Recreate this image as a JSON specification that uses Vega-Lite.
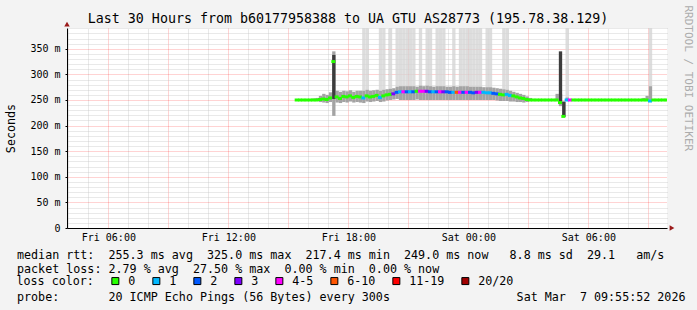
{
  "$schema": "https://vega.github.io/schema/vega-lite/v6.json",
  "width": 600,
  "height": 200,
  "autosize": {"type": "none"},
  "padding": {"left": 67, "top": 28, "right": 30, "bottom": 82},
  "background": "#f3f3f3",
  "title": {
    "text": "Last 30 Hours from b60177958388 to UA GTU AS28773 (195.78.38.129)",
    "orient": "top", "anchor": "middle", "frame": "group", "dx": -19, "dy": 35, "offset": 4,
    "baseline": "alphabetic", "font": "DejaVu Sans Mono", "fontSize": 13.3,
    "fontWeight": "normal", "color": "#000000"
  },
  "data": {"values": [
    {"t":"2026-03-06T15:20","m":250,"l":"0","lo":249,"hi":251},
    {"t":"2026-03-06T15:30","m":250,"l":"0","lo":249,"hi":251},
    {"t":"2026-03-06T15:40","m":250,"l":"0","lo":249,"hi":251},
    {"t":"2026-03-06T15:50","m":250,"l":"0","lo":249,"hi":251},
    {"t":"2026-03-06T16:00","m":250,"l":"0","lo":249,"hi":251},
    {"t":"2026-03-06T16:10","m":250,"l":"0","lo":248,"hi":253},
    {"t":"2026-03-06T16:20","m":250,"l":"0","lo":248,"hi":254},
    {"t":"2026-03-06T16:30","m":251,"l":"0","lo":246,"hi":258},
    {"t":"2026-03-06T16:40","m":252,"l":"0","lo":245,"hi":262},
    {"t":"2026-03-06T16:50","m":251,"l":"0","lo":244,"hi":260},
    {"t":"2026-03-06T17:00","m":254,"l":"0","lo":246,"hi":265},
    {"t":"2026-03-06T17:10","m":325,"l":"0","lo":219,"hi":345,"d0":252,"d1":338},
    {"t":"2026-03-06T17:20","m":256,"l":"0","lo":245,"hi":268},
    {"t":"2026-03-06T17:30","m":253,"l":"0","lo":244,"hi":266},
    {"t":"2026-03-06T17:40","m":257,"l":"0","lo":246,"hi":268},
    {"t":"2026-03-06T17:50","m":256,"l":"0","lo":245,"hi":267},
    {"t":"2026-03-06T18:00","m":258,"l":"0","lo":247,"hi":269},
    {"t":"2026-03-06T18:10","m":255,"l":"0","lo":245,"hi":266},
    {"t":"2026-03-06T18:20","m":257,"l":"0","lo":246,"hi":268},
    {"t":"2026-03-06T18:30","m":256,"l":"0","lo":245,"hi":268},
    {"t":"2026-03-06T18:40","m":254,"l":"1","lo":244,"hi":268,"tp":400},
    {"t":"2026-03-06T18:50","m":258,"l":"0","lo":247,"hi":270,"tp":400},
    {"t":"2026-03-06T19:00","m":256,"l":"0","lo":246,"hi":268},
    {"t":"2026-03-06T19:10","m":257,"l":"0","lo":247,"hi":269},
    {"t":"2026-03-06T19:20","m":259,"l":"0","lo":248,"hi":270},
    {"t":"2026-03-06T19:30","m":255,"l":"1","lo":246,"hi":268,"tp":400},
    {"t":"2026-03-06T19:40","m":258,"l":"0","lo":247,"hi":270,"tp":400},
    {"t":"2026-03-06T19:50","m":260,"l":"0","lo":249,"hi":271},
    {"t":"2026-03-06T20:00","m":261,"l":"0","lo":250,"hi":272,"tp":400},
    {"t":"2026-03-06T20:10","m":262,"l":"3","lo":251,"hi":273},
    {"t":"2026-03-06T20:20","m":265,"l":"2","lo":252,"hi":276,"tp":400},
    {"t":"2026-03-06T20:30","m":266,"l":"1","lo":250,"hi":277,"tp":400},
    {"t":"2026-03-06T20:40","m":266,"l":"4-5","lo":250,"hi":277,"tp":400},
    {"t":"2026-03-06T20:50","m":266,"l":"2","lo":250,"hi":277,"tp":400},
    {"t":"2026-03-06T21:00","m":266,"l":"1","lo":250,"hi":277,"tp":400},
    {"t":"2026-03-06T21:10","m":266,"l":"2","lo":250,"hi":277,"tp":400},
    {"t":"2026-03-06T21:20","m":267,"l":"0","lo":251,"hi":276},
    {"t":"2026-03-06T21:30","m":267,"l":"4-5","lo":250,"hi":278,"tp":400},
    {"t":"2026-03-06T21:40","m":267,"l":"4-5","lo":250,"hi":277},
    {"t":"2026-03-06T21:50","m":267,"l":"3","lo":250,"hi":278,"tp":400},
    {"t":"2026-03-06T22:00","m":266,"l":"2","lo":250,"hi":277,"tp":400},
    {"t":"2026-03-06T22:10","m":266,"l":"1","lo":250,"hi":276},
    {"t":"2026-03-06T22:20","m":266,"l":"2","lo":250,"hi":277,"tp":400},
    {"t":"2026-03-06T22:30","m":266,"l":"4-5","lo":250,"hi":277,"tp":400},
    {"t":"2026-03-06T22:40","m":266,"l":"3","lo":250,"hi":277,"tp":400},
    {"t":"2026-03-06T22:50","m":266,"l":"2","lo":250,"hi":276},
    {"t":"2026-03-06T23:00","m":265,"l":"2","lo":250,"hi":276},
    {"t":"2026-03-06T23:10","m":265,"l":"1","lo":250,"hi":277,"tp":400},
    {"t":"2026-03-06T23:20","m":265,"l":"6-10","lo":250,"hi":276},
    {"t":"2026-03-06T23:30","m":265,"l":"4-5","lo":250,"hi":277,"tp":400},
    {"t":"2026-03-06T23:40","m":265,"l":"2","lo":250,"hi":277,"tp":400},
    {"t":"2026-03-06T23:50","m":265,"l":"4-5","lo":250,"hi":277,"tp":400},
    {"t":"2026-03-07T00:00","m":265,"l":"2","lo":250,"hi":276,"tp":400},
    {"t":"2026-03-07T00:10","m":264,"l":"2","lo":250,"hi":276,"tp":400},
    {"t":"2026-03-07T00:20","m":265,"l":"3","lo":250,"hi":276,"tp":400},
    {"t":"2026-03-07T00:30","m":265,"l":"4-5","lo":250,"hi":276,"tp":400},
    {"t":"2026-03-07T00:40","m":265,"l":"1","lo":250,"hi":275},
    {"t":"2026-03-07T00:50","m":264,"l":"1","lo":250,"hi":275,"tp":400},
    {"t":"2026-03-07T01:00","m":264,"l":"1","lo":250,"hi":275,"tp":400},
    {"t":"2026-03-07T01:10","m":263,"l":"2","lo":250,"hi":274},
    {"t":"2026-03-07T01:20","m":262,"l":"2","lo":249,"hi":273},
    {"t":"2026-03-07T01:30","m":261,"l":"0","lo":248,"hi":272},
    {"t":"2026-03-07T01:40","m":260,"l":"0","lo":248,"hi":271,"tp":400},
    {"t":"2026-03-07T01:50","m":261,"l":"1","lo":248,"hi":270,"tp":400},
    {"t":"2026-03-07T02:00","m":259,"l":"1","lo":247,"hi":268},
    {"t":"2026-03-07T02:10","m":258,"l":"0","lo":247,"hi":266},
    {"t":"2026-03-07T02:20","m":256,"l":"0","lo":246,"hi":264},
    {"t":"2026-03-07T02:30","m":254,"l":"0","lo":246,"hi":262},
    {"t":"2026-03-07T02:40","m":253,"l":"0","lo":245,"hi":260},
    {"t":"2026-03-07T02:50","m":251,"l":"0","lo":246,"hi":257},
    {"t":"2026-03-07T03:00","m":250,"l":"0","lo":248,"hi":254},
    {"t":"2026-03-07T03:10","m":250,"l":"0","lo":249,"hi":251},
    {"t":"2026-03-07T03:20","m":250,"l":"0","lo":249,"hi":251},
    {"t":"2026-03-07T03:30","m":250,"l":"0","lo":249,"hi":251},
    {"t":"2026-03-07T03:40","m":250,"l":"0","lo":249,"hi":251},
    {"t":"2026-03-07T03:50","m":250,"l":"0","lo":249,"hi":251},
    {"t":"2026-03-07T04:00","m":250,"l":"0","lo":249,"hi":251},
    {"t":"2026-03-07T04:10","m":250,"l":"0","lo":249,"hi":251},
    {"t":"2026-03-07T04:20","m":250,"l":"0","lo":248,"hi":262},
    {"t":"2026-03-07T04:30","m":245,"l":"0","lo":238,"hi":262,"d0":245,"d1":345},
    {"t":"2026-03-07T04:40","m":218,"l":"0","lo":217,"hi":248,"d0":217,"d1":246},
    {"t":"2026-03-07T04:50","m":250,"l":"1","lo":249,"hi":255,"tp":400},
    {"t":"2026-03-07T05:00","m":250,"l":"4-5","lo":249,"hi":252},
    {"t":"2026-03-07T05:10","m":250,"l":"0","lo":249,"hi":251},
    {"t":"2026-03-07T05:20","m":250,"l":"0","lo":249,"hi":251},
    {"t":"2026-03-07T05:30","m":250,"l":"0","lo":249,"hi":251},
    {"t":"2026-03-07T05:40","m":250,"l":"0","lo":249,"hi":251},
    {"t":"2026-03-07T05:50","m":250,"l":"0","lo":249,"hi":251},
    {"t":"2026-03-07T06:00","m":250,"l":"0","lo":249,"hi":251},
    {"t":"2026-03-07T06:10","m":250,"l":"0","lo":249,"hi":251},
    {"t":"2026-03-07T06:20","m":250,"l":"0","lo":249,"hi":251},
    {"t":"2026-03-07T06:30","m":250,"l":"0","lo":249,"hi":251},
    {"t":"2026-03-07T06:40","m":250,"l":"0","lo":249,"hi":251},
    {"t":"2026-03-07T06:50","m":250,"l":"0","lo":249,"hi":251},
    {"t":"2026-03-07T07:00","m":250,"l":"0","lo":249,"hi":251},
    {"t":"2026-03-07T07:10","m":250,"l":"0","lo":249,"hi":251},
    {"t":"2026-03-07T07:20","m":250,"l":"0","lo":249,"hi":251},
    {"t":"2026-03-07T07:30","m":250,"l":"0","lo":249,"hi":251},
    {"t":"2026-03-07T07:40","m":250,"l":"0","lo":249,"hi":251},
    {"t":"2026-03-07T07:50","m":250,"l":"0","lo":249,"hi":251},
    {"t":"2026-03-07T08:00","m":250,"l":"0","lo":249,"hi":251},
    {"t":"2026-03-07T08:10","m":250,"l":"0","lo":249,"hi":251},
    {"t":"2026-03-07T08:20","m":250,"l":"0","lo":249,"hi":251},
    {"t":"2026-03-07T08:30","m":250,"l":"0","lo":249,"hi":251},
    {"t":"2026-03-07T08:40","m":250,"l":"0","lo":249,"hi":254},
    {"t":"2026-03-07T08:50","m":250,"l":"0","lo":249,"hi":258},
    {"t":"2026-03-07T09:00","m":248,"l":"1","lo":246,"hi":277,"tp":400},
    {"t":"2026-03-07T09:10","m":250,"l":"0","lo":249,"hi":251},
    {"t":"2026-03-07T09:20","m":250,"l":"0","lo":249,"hi":251},
    {"t":"2026-03-07T09:30","m":250,"l":"0","lo":249,"hi":251},
    {"t":"2026-03-07T09:40","m":250,"l":"0","lo":249,"hi":251},
    {"t":"2026-03-07T09:50","m":250,"l":"0","lo":249,"hi":251}
  ]},
  "resolve": {"axis": {"x": "independent", "y": "independent"}},
  "layer": [
    {
      "transform": [{"filter": "isValid(datum.tp)"}],
      "mark": {"type": "rect", "color": "#d4d4d4", "opacity": 0.8, "clip": true},
      "encoding": {
        "x": {
          "field": "t", "type": "temporal",
          "timeUnit": {"unit": "yearmonthdatehoursminutes", "step": 10},
          "scale": {"domain": [
            {"year": 2026, "month": 3, "date": 6, "hours": 3, "minutes": 56},
            {"year": 2026, "month": 3, "date": 7, "hours": 9, "minutes": 56}
          ]},
          "axis": {
            "orient": "bottom",
            "values": [
              {"year": 2026, "month": 3, "date": 6, "hours": 6},
              {"year": 2026, "month": 3, "date": 6, "hours": 9},
              {"year": 2026, "month": 3, "date": 6, "hours": 12},
              {"year": 2026, "month": 3, "date": 6, "hours": 15},
              {"year": 2026, "month": 3, "date": 6, "hours": 18},
              {"year": 2026, "month": 3, "date": 6, "hours": 21},
              {"year": 2026, "month": 3, "date": 7, "hours": 0},
              {"year": 2026, "month": 3, "date": 7, "hours": 3},
              {"year": 2026, "month": 3, "date": 7, "hours": 6},
              {"year": 2026, "month": 3, "date": 7, "hours": 9}
            ],
            "grid": true, "gridColor": "#ff0000", "gridOpacity": 0.35, "gridDash": [1, 1],
            "domain": true, "domainColor": "#000000", "ticks": false,
            "labelExpr": "hours(datum.value) % 6 == 0 ? timeFormat(datum.value, '%a %H:%M') : ''",
            "labelFont": "DejaVu Sans Mono", "labelFontSize": 10, "labelColor": "#000000",
            "labelPadding": 4.5, "labelOverlap": false, "labelFlush": false,
            "title": [
              "median rtt:\u00a0\u00a0255.3 ms avg\u00a0\u00a0325.0 ms max\u00a0\u00a0217.4 ms min\u00a0\u00a0249.0 ms now\u00a0\u00a0\u00a08.8 ms sd\u00a0\u00a029.1\u00a0\u00a0\u00a0am/s",
              "packet loss: 2.79 % avg\u00a0\u00a027.50 % max\u00a0\u00a00.00 % min\u00a0\u00a00.00 % now"
            ],
            "titleX": -50.5, "titleY": 21, "titleAlign": "left", "titleBaseline": "top",
            "titleFont": "DejaVu Sans Mono", "titleFontSize": 11.7, "titleFontWeight": "normal",
            "titleColor": "#000000", "titleLineHeight": 14
          }
        },
        "y": {
          "field": "hi", "type": "quantitative",
          "scale": {"domain": [0, 390.6], "nice": false, "zero": true},
          "axis": {
            "orient": "left",
            "values": [0, 50, 100, 150, 200, 250, 300, 350],
            "grid": true, "gridColor": "#ff0000", "gridOpacity": 0.35, "gridDash": [1, 1],
            "domain": true, "domainColor": "#000000", "ticks": true, "tickSize": 2, "tickColor": "#000000",
            "labelExpr": "datum.value == 0 ? '0\u00a0\u00a0' : datum.value + ' m'",
            "labelFont": "DejaVu Sans Mono", "labelFontSize": 10, "labelColor": "#000000",
            "labelPadding": 5,
            "title": "Seconds", "titleX": -56.5, "titleY": 100, "titleAngle": 270,
            "titleAlign": "center", "titleBaseline": "middle",
            "titleFont": "DejaVu Sans Mono", "titleFontSize": 11.7, "titleFontWeight": "normal",
            "titleColor": "#000000"
          }
        },
        "y2": {"field": "tp"}
      }
    },
    {
      "mark": {"type": "rect", "color": "#a3a3a3", "clip": true},
      "encoding": {
        "x": {"field": "t", "type": "temporal", "timeUnit": {"unit": "yearmonthdatehoursminutes", "step": 10}, "axis": null},
        "y": {"field": "lo", "type": "quantitative", "axis": null},
        "y2": {"field": "hi"}
      }
    },
    {
      "transform": [{"filter": "isValid(datum.d0)"}],
      "mark": {"type": "rect", "color": "#3c3c3c", "clip": true},
      "encoding": {
        "x": {"field": "t", "type": "temporal", "timeUnit": {"unit": "yearmonthdatehoursminutes", "step": 10}, "axis": null},
        "y": {"field": "d0", "type": "quantitative", "axis": null},
        "y2": {"field": "d1"}
      }
    },
    {
      "mark": {"type": "tick", "orient": "horizontal", "thickness": 3, "size": 4, "opacity": 1, "clip": true},
      "encoding": {
        "x": {
          "field": "t", "type": "temporal", "timeUnit": {"unit": "yearmonthdatehoursminutes", "step": 10},
          "bandPosition": 0.5,
          "axis": {
            "orient": "top",
            "values": [
              {"year": 2026, "month": 3, "date": 6, "hours": 4},
              {"year": 2026, "month": 3, "date": 6, "hours": 5},
              {"year": 2026, "month": 3, "date": 6, "hours": 7},
              {"year": 2026, "month": 3, "date": 6, "hours": 8},
              {"year": 2026, "month": 3, "date": 6, "hours": 10},
              {"year": 2026, "month": 3, "date": 6, "hours": 11},
              {"year": 2026, "month": 3, "date": 6, "hours": 13},
              {"year": 2026, "month": 3, "date": 6, "hours": 14},
              {"year": 2026, "month": 3, "date": 6, "hours": 16},
              {"year": 2026, "month": 3, "date": 6, "hours": 17},
              {"year": 2026, "month": 3, "date": 6, "hours": 19},
              {"year": 2026, "month": 3, "date": 6, "hours": 20},
              {"year": 2026, "month": 3, "date": 6, "hours": 22},
              {"year": 2026, "month": 3, "date": 6, "hours": 23},
              {"year": 2026, "month": 3, "date": 7, "hours": 1},
              {"year": 2026, "month": 3, "date": 7, "hours": 2},
              {"year": 2026, "month": 3, "date": 7, "hours": 4},
              {"year": 2026, "month": 3, "date": 7, "hours": 5},
              {"year": 2026, "month": 3, "date": 7, "hours": 7},
              {"year": 2026, "month": 3, "date": 7, "hours": 8}
            ],
            "grid": true, "gridColor": "#c4c4c4", "gridOpacity": 0.75, "gridDash": [1, 1],
            "domain": false, "ticks": false, "labels": false,
            "title": "probe:\u00a0\u00a0\u00a0\u00a0\u00a0\u00a0\u00a020 ICMP Echo Pings (56 Bytes) every 300s\u00a0\u00a0\u00a0\u00a0\u00a0\u00a0\u00a0\u00a0\u00a0\u00a0\u00a0\u00a0\u00a0\u00a0\u00a0\u00a0\u00a0\u00a0Sat Mar\u00a0\u00a07 09:55:52 2026",
            "titleX": -50.5, "titleY": 263, "titleAlign": "left", "titleBaseline": "top",
            "titleFont": "DejaVu Sans Mono", "titleFontSize": 11.7, "titleFontWeight": "normal",
            "titleColor": "#000000"
          }
        },
        "y": {
          "field": "m", "type": "quantitative",
          "axis": {
            "orient": "right",
            "values": [10, 20, 30, 40, 60, 70, 80, 90, 110, 120, 130, 140, 160, 170, 180, 190, 210, 220, 230, 240, 260, 270, 280, 290, 310, 320, 330, 340, 360, 370, 380, 390],
            "grid": true, "gridColor": "#c4c4c4", "gridOpacity": 0.75, "gridDash": [1, 1],
            "domain": false, "ticks": false, "labels": false,
            "title": "RRDTOOL / TOBI OETIKER", "titleX": 20, "titleY": -23, "titleAngle": 90,
            "titleAlign": "left", "titleBaseline": "middle",
            "titleFont": "DejaVu Sans Mono", "titleFontSize": 11, "titleFontWeight": "normal",
            "titleColor": "#acacac"
          }
        },
        "color": {
          "field": "l", "type": "nominal",
          "scale": {
            "domain": ["0", "1", "2", "3", "4-5", "6-10", "11-19", "20/20"],
            "range": ["#26ff00", "#00b8ff", "#0059ff", "#7e00ff", "#ff00ff", "#ff5500", "#ff0000", "#a10000"]
          },
          "legend": {
            "orient": "none", "legendX": -50.5, "legendY": 247, "direction": "horizontal",
            "title": "loss color:", "titleOrient": "left", "titlePadding": 15,
            "titleFont": "DejaVu Sans Mono", "titleFontSize": 11.7, "titleFontWeight": "normal", "titleColor": "#000000",
            "labelFont": "DejaVu Sans Mono", "labelFontSize": 11.7, "labelColor": "#000000",
            "labelOffset": 7, "columnPadding": 15,
            "symbolType": "square", "symbolSize": 49, "symbolStrokeWidth": 1, "symbolStrokeColor": "#000000",
            "symbolOpacity": 1
          }
        }
      }
    },
    {
      "data": {"values": [{"k": "y"}]},
      "mark": {"type": "point", "shape": "triangle-up", "filled": true, "color": "#9b1b1b", "size": 30, "opacity": 1, "clip": false},
      "encoding": {
        "x": {"datum": {"year": 2026, "month": 3, "date": 6, "hours": 3, "minutes": 56}, "type": "temporal", "axis": null},
        "y": {"datum": 398, "type": "quantitative", "axis": null}
      }
    },
    {
      "data": {"values": [{"k": "x"}]},
      "mark": {"type": "point", "shape": "triangle-right", "filled": true, "color": "#9b1b1b", "size": 30, "opacity": 1, "clip": false},
      "encoding": {
        "x": {"datum": {"year": 2026, "month": 3, "date": 7, "hours": 10, "minutes": 11}, "type": "temporal", "axis": null},
        "y": {"datum": 0, "type": "quantitative", "axis": null}
      }
    }
  ],
  "config": {
    "view": {"fill": "#ffffff", "stroke": null},
    "font": "DejaVu Sans Mono"
  }
}
